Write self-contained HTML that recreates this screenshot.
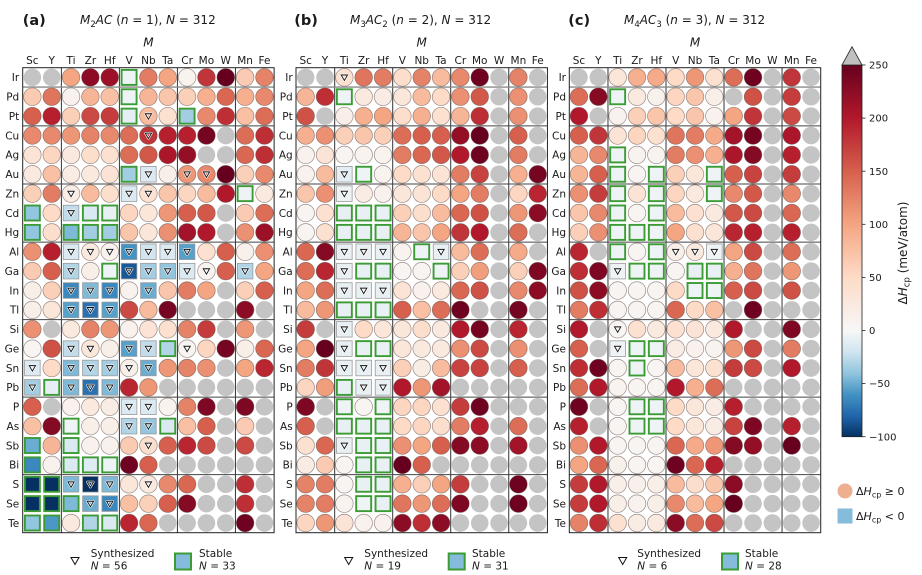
<!DOCTYPE html>
<html><head><meta charset="utf-8">
<style>
html,body{margin:0;padding:0;background:#fff;}
svg{display:block;font-family:"DejaVu Sans","Liberation Sans",sans-serif;}
</style></head>
<body>
<svg id="s" width="922" height="575" viewBox="0 0 922 575" xmlns="http://www.w3.org/2000/svg">
<defs>
<linearGradient id="cb" x1="0" y1="1" x2="0" y2="0">
<stop offset="0" stop-color="#053061"/>
<stop offset="0.0571" stop-color="#2166ac"/>
<stop offset="0.1143" stop-color="#4393c3"/>
<stop offset="0.1714" stop-color="#92c5de"/>
<stop offset="0.2286" stop-color="#d1e5f0"/>
<stop offset="0.2857" stop-color="#f7f7f7"/>
<stop offset="0.4286" stop-color="#fddbc7"/>
<stop offset="0.5714" stop-color="#f4a582"/>
<stop offset="0.7143" stop-color="#d6604d"/>
<stop offset="0.8571" stop-color="#b2182b"/>
<stop offset="1" stop-color="#67001f"/>
</linearGradient>
</defs>
<rect width="922" height="575" fill="#fff"/>
<g id="cells"></g>

<g fill="#1a1a1a">
<!-- titles -->
<text x="22.7" y="25" font-size="14.5" font-weight="bold">(a)</text>
<text x="80" y="24" font-size="12"><tspan font-style="italic">M</tspan><tspan font-size="8.5" dy="3">2</tspan><tspan dy="-3" font-style="italic">AC</tspan> (<tspan font-style="italic">n</tspan> = 1), <tspan font-style="italic">N</tspan> = 312</text>
<text x="294.3" y="25" font-size="14.5" font-weight="bold">(b)</text>
<text x="350" y="24" font-size="12"><tspan font-style="italic">M</tspan><tspan font-size="8.5" dy="3">3</tspan><tspan dy="-3" font-style="italic">AC</tspan><tspan font-size="8.5" dy="3">2</tspan><tspan dy="-3"> (</tspan><tspan font-style="italic">n</tspan> = 2), <tspan font-style="italic">N</tspan> = 312</text>
<text x="568.3" y="25" font-size="14.5" font-weight="bold">(c)</text>
<text x="624" y="24" font-size="12"><tspan font-style="italic">M</tspan><tspan font-size="8.5" dy="3">4</tspan><tspan dy="-3" font-style="italic">AC</tspan><tspan font-size="8.5" dy="3">3</tspan><tspan dy="-3"> (</tspan><tspan font-style="italic">n</tspan> = 3), <tspan font-style="italic">N</tspan> = 312</text>

<text x="148.4" y="46.5" font-size="12" font-style="italic" text-anchor="middle">M</text>
<text x="421.7" y="46.5" font-size="12" font-style="italic" text-anchor="middle">M</text>
<text x="695.0" y="46.5" font-size="12" font-style="italic" text-anchor="middle">M</text>

<!-- panel a labels -->
<g transform="translate(22.7,0)" font-size="10.5">
<g text-anchor="middle">
<text x="9.67" y="64">Sc</text><text x="29.01" y="64">Y</text><text x="48.35" y="64">Ti</text><text x="67.69" y="64">Zr</text><text x="87.03" y="64">Hf</text><text x="106.37" y="64">V</text><text x="125.71" y="64">Nb</text><text x="145.05" y="64">Ta</text><text x="164.39" y="64">Cr</text><text x="183.73" y="64">Mo</text><text x="203.07" y="64">W</text><text x="222.41" y="64">Mn</text><text x="241.75" y="64">Fe</text>
</g>
<g text-anchor="end">
<text x="-3.5" y="81.2">Ir</text><text x="-3.5" y="100.6">Pd</text><text x="-3.5" y="119.9">Pt</text><text x="-3.5" y="139.3">Cu</text><text x="-3.5" y="158.7">Ag</text><text x="-3.5" y="178.1">Au</text><text x="-3.5" y="197.4">Zn</text><text x="-3.5" y="216.8">Cd</text><text x="-3.5" y="236.2">Hg</text><text x="-3.5" y="255.6">Al</text><text x="-3.5" y="274.9">Ga</text><text x="-3.5" y="294.3">In</text><text x="-3.5" y="313.7">Tl</text><text x="-3.5" y="333.1">Si</text><text x="-3.5" y="352.4">Ge</text><text x="-3.5" y="371.8">Sn</text><text x="-3.5" y="391.2">Pb</text><text x="-3.5" y="410.6">P</text><text x="-3.5" y="429.9">As</text><text x="-3.5" y="449.3">Sb</text><text x="-3.5" y="468.7">Bi</text><text x="-3.5" y="488.1">S</text><text x="-3.5" y="507.4">Se</text><text x="-3.5" y="526.8">Te</text>
</g>
</g>

<!-- panel b labels -->
<g transform="translate(296,0)" font-size="10.5">
<g text-anchor="middle">
<text x="9.67" y="64">Sc</text><text x="29.01" y="64">Y</text><text x="48.35" y="64">Ti</text><text x="67.69" y="64">Zr</text><text x="87.03" y="64">Hf</text><text x="106.37" y="64">V</text><text x="125.71" y="64">Nb</text><text x="145.05" y="64">Ta</text><text x="164.39" y="64">Cr</text><text x="183.73" y="64">Mo</text><text x="203.07" y="64">W</text><text x="222.41" y="64">Mn</text><text x="241.75" y="64">Fe</text>
</g>
<g text-anchor="end">
<text x="-3.3" y="81.2">Ir</text><text x="-3.3" y="100.6">Pd</text><text x="-3.3" y="119.9">Pt</text><text x="-3.3" y="139.3">Cu</text><text x="-3.3" y="158.7">Ag</text><text x="-3.3" y="178.1">Au</text><text x="-3.3" y="197.4">Zn</text><text x="-3.3" y="216.8">Cd</text><text x="-3.3" y="236.2">Hg</text><text x="-3.3" y="255.6">Al</text><text x="-3.3" y="274.9">Ga</text><text x="-3.3" y="294.3">In</text><text x="-3.3" y="313.7">Tl</text><text x="-3.3" y="333.1">Si</text><text x="-3.3" y="352.4">Ge</text><text x="-3.3" y="371.8">Sn</text><text x="-3.3" y="391.2">Pb</text><text x="-3.3" y="410.6">P</text><text x="-3.3" y="429.9">As</text><text x="-3.3" y="449.3">Sb</text><text x="-3.3" y="468.7">Bi</text><text x="-3.3" y="488.1">S</text><text x="-3.3" y="507.4">Se</text><text x="-3.3" y="526.8">Te</text>
</g>
</g>

<!-- panel c labels -->
<g transform="translate(569.3,0)" font-size="10.5">
<g text-anchor="middle">
<text x="9.67" y="64">Sc</text><text x="29.01" y="64">Y</text><text x="48.35" y="64">Ti</text><text x="67.69" y="64">Zr</text><text x="87.03" y="64">Hf</text><text x="106.37" y="64">V</text><text x="125.71" y="64">Nb</text><text x="145.05" y="64">Ta</text><text x="164.39" y="64">Cr</text><text x="183.73" y="64">Mo</text><text x="203.07" y="64">W</text><text x="222.41" y="64">Mn</text><text x="241.75" y="64">Fe</text>
</g>
<g text-anchor="end">
<text x="-3.3" y="81.2">Ir</text><text x="-3.3" y="100.6">Pd</text><text x="-3.3" y="119.9">Pt</text><text x="-3.3" y="139.3">Cu</text><text x="-3.3" y="158.7">Ag</text><text x="-3.3" y="178.1">Au</text><text x="-3.3" y="197.4">Zn</text><text x="-3.3" y="216.8">Cd</text><text x="-3.3" y="236.2">Hg</text><text x="-3.3" y="255.6">Al</text><text x="-3.3" y="274.9">Ga</text><text x="-3.3" y="294.3">In</text><text x="-3.3" y="313.7">Tl</text><text x="-3.3" y="333.1">Si</text><text x="-3.3" y="352.4">Ge</text><text x="-3.3" y="371.8">Sn</text><text x="-3.3" y="391.2">Pb</text><text x="-3.3" y="410.6">P</text><text x="-3.3" y="429.9">As</text><text x="-3.3" y="449.3">Sb</text><text x="-3.3" y="468.7">Bi</text><text x="-3.3" y="488.1">S</text><text x="-3.3" y="507.4">Se</text><text x="-3.3" y="526.8">Te</text>
</g>
</g>

<!-- bottom legends -->
<g font-size="10.5">
<polygon points="71,557.5 79,557.5 75,564.5" fill="none" stroke="#111" stroke-width="1"/>
<text x="90.7" y="557">Synthesized</text>
<text x="90.7" y="569.5"><tspan font-style="italic">N</tspan> = 56</text>
<rect x="175" y="553.5" width="16" height="16" fill="#86bcdb" stroke="#3b9b35" stroke-width="2"/>
<text x="199" y="557">Stable</text>
<text x="199" y="569.5"><tspan font-style="italic">N</tspan> = 33</text>

<polygon points="344.7,557.5 352.7,557.5 348.7,564.5" fill="none" stroke="#111" stroke-width="1"/>
<text x="364.3" y="557">Synthesized</text>
<text x="364.3" y="569.5"><tspan font-style="italic">N</tspan> = 19</text>
<rect x="448.7" y="553.5" width="16" height="16" fill="#86bcdb" stroke="#3b9b35" stroke-width="2"/>
<text x="472" y="557">Stable</text>
<text x="472" y="569.5"><tspan font-style="italic">N</tspan> = 31</text>

<polygon points="618.7,557.5 626.7,557.5 622.7,564.5" fill="none" stroke="#111" stroke-width="1"/>
<text x="637.3" y="557">Synthesized</text>
<text x="637.3" y="569.5"><tspan font-style="italic">N</tspan> = 6</text>
<rect x="722" y="553.5" width="16" height="16" fill="#86bcdb" stroke="#3b9b35" stroke-width="2"/>
<text x="745" y="557">Stable</text>
<text x="745" y="569.5"><tspan font-style="italic">N</tspan> = 28</text>
</g>

<!-- colorbar -->
<rect x="842" y="65" width="20" height="371.7" fill="url(#cb)" stroke="#222" stroke-width="0.8"/>
<polygon points="842,65 862,65 852,46.7" fill="#c0c0c0" stroke="#222" stroke-width="0.8"/>
<g stroke="#222" stroke-width="0.8">
<line x1="862" y1="65" x2="865.5" y2="65"/>
<line x1="862" y1="118.1" x2="865.5" y2="118.1"/>
<line x1="862" y1="171.2" x2="865.5" y2="171.2"/>
<line x1="862" y1="224.3" x2="865.5" y2="224.3"/>
<line x1="862" y1="277.4" x2="865.5" y2="277.4"/>
<line x1="862" y1="330.5" x2="865.5" y2="330.5"/>
<line x1="862" y1="383.6" x2="865.5" y2="383.6"/>
<line x1="862" y1="436.7" x2="865.5" y2="436.7"/>
</g>
<g font-size="10">
<text x="869" y="68.6">250</text>
<text x="869" y="121.7">200</text>
<text x="869" y="174.8">150</text>
<text x="869" y="227.9">100</text>
<text x="869" y="281">50</text>
<text x="869" y="334.1">0</text>
<text x="869" y="387.2">−50</text>
<text x="869" y="440.3">−100</text>
</g>
<text transform="translate(907,253) rotate(-90)" text-anchor="middle" font-size="12">Δ<tspan font-style="italic">H</tspan><tspan font-size="8.5" dy="2.5">cp</tspan><tspan dy="-2.5"> (meV/atom)</tspan></text>

<!-- right legend -->
<circle cx="845" cy="491" r="7.5" fill="#eeae90"/>
<text x="856" y="495" font-size="11">Δ<tspan font-style="italic">H</tspan><tspan font-size="8" dy="2.5">cp</tspan><tspan dy="-2.5"> ≥ 0</tspan></text>
<rect x="837.5" y="508.5" width="15" height="15" fill="#86bcdb"/>
<text x="856" y="520" font-size="11">Δ<tspan font-style="italic">H</tspan><tspan font-size="8" dy="2.5">cp</tspan><tspan dy="-2.5"> &lt; 0</tspan></text>
</g>
</svg>
<script>
const A=[
"g g 100 225 215 -5s 130 100 8 180 250 65 125",
"65 135 10 85 75 -5s 85 70 60 90 145 90 120",
"150 195 60 165 175 -10s 80t 40 -35s 120 185 75 140",
"120 120 110 125 120 140 180t 195 195 240 g 140 185",
"35 55 25 45 40 140 155 205 220 g g 145 185",
"25 75 20 25 35 -35s -15t 15 110t 120t 250 60 120",
"60 130 20t 80 45 -15t 40t 70 55 80 200 -5s 25",
"-40s 50 -25t -15s -8s 55 30 110 150 155 g 65 140",
"-40s 45 -45s -35s -35s 70 30 115 210 200 g 115 215",
"115 195 -15t 25t 10t -60t -20t -15t -55t 40 150 12 115",
"65 150 -30t 15 -5s -85t -35t -40t -15t 8t 150 -30t 100",
"15 60 -65t -45t -65t 10 -50t 70 130 100 g 60 150",
"15 30 -55t -75t -55t 165 80 240 g g g 225 g",
"115 g 25 125 110 10 35 40 125 175 g 110 g",
"5 160 -25t 30t 15 -55t -25t -30s 5t 55 240 15 145",
"-15t 50 -45t -30t -35t 15t -50t 110 125 115 g 100 190",
"-35t -10s -45t -75t -45t 190 110 g g g g g g",
"150 g 10 25 20 -15t -15t 8 125 235 g 235 g",
"75 230 -3s 15 15 -30t -40t -15s 75 150 g 65 g",
"-50s 85 -15s 10 10 65 45t 150 190 165 g 165 g",
"-65s 10 -15s -12s -5s 245 150 g g g g g g",
"-100s -100s -45t -100t -45t 30 25t 120 145 g g 185 g",
"-100s -100s -45s -50t -65t 75 60 150 230 g g 185 g",
"-40s -58s 25 -30s -15s 190 145 g g g g 245 g"
];
const B=[
"g g 40t 135 130 45 125 80 120 245 g 125 g",
"85 185 -5s 25 20 30 80 50 115 155 g 115 g",
"160 g 15 90 100 45 90 40 85 185 g 115 g",
"90 115 60 70 60 140 150 150 220 250 g 150 g",
"10 35 5 8 8 130 145 155 200 245 g 130 g",
"10 80 -10t -5s 8 50 40 35 130 170 g 90 240",
"70 115 -5t 20 10 30 35 50 100 130 g 55 190",
"5 40 -8s -8s -8s 60 45 80 145 160 g 110 225",
"5 40 -8s -8s -8s 85 70 100 180 200 g 140 g",
"145 230 -8t -8t -8t 8 -5s -8t 80 140 g 95 g",
"140 190 -8t -8s -8s 5 5 -5s 60 105 g 60 235",
"100 140 -8t -8t -8t 35 10 25 145 160 g 120 225",
"80 110 -8s -8s -8s 150 75 140 245 g g 240 g",
"175 g -8t 50 30 30 45 25 200 240 g 190 g",
"100 250 -8t -8s -8s 30 25 25 115 165 g 115 g",
"130 180 -8t -8t -8t 60 20 80 170 170 g 150 g",
"55 105 -8s -8t -8t 200 110 210 g g g g g",
"235 g -5s 5 -5s 55 55 40 175 245 g g g",
"150 g -8s -8s -8s 50 55 45 130 195 g 140 g",
"40 145 -8t -8s -8s 115 100 150 230 225 g 210 g",
"20 65 5 -8s -8s 250 150 g g g g g g",
"125 130 5 -8s -8s 90 60 100 175 g g 245 g",
"125 130 8 -5s -8s 135 110 140 235 g g 245 g",
"55 110 35 10 10 225 185 225 g g g g g"
];
const C=[
"g g 30 90 95 50 110 40 140 245 g 180 g",
"140 230 -5s 25 12 55 70 15 g 160 g 175 g",
"200 g 10 60 70 50 70 10 100 180 g 165 g",
"150 180 35 55 40 135 130 95 210 240 g 205 g",
"85 120 -5s 8 8 130 115 90 205 230 g 195 g",
"85 150 -5s 5 -5s 60 30 -5s 150 170 g 175 g",
"115 175 -5s 35 -5s 55 25 -5s 120 155 g 120 g",
"70 120 -5s 5 -5s 80 40 25 155 165 g 145 g",
"60 115 -5s -5s -5s 100 40 30 190 195 g 195 g",
"190 g -5s 5 -5s 15t 25t -5t 100 165 g 140 g",
"185 235 -5t -5s -5s 5 -8s -8s 90 135 g 110 g",
"160 225 5 5 5 50 -5s -5s 150 165 g 160 g",
"130 185 5 5 5 145 50 75 g 245 g g g",
"200 g 5t 40 25 40 35 25 200 g g 235 g",
"150 g -5t -5s -5s 20 10 8 110 165 g 130 g",
"185 245 5 -5s 5 80 30 40 175 165 g 200 g",
"140 200 8 5 5 200 90 140 g g g g g",
"245 g 5 -5s -5s 50 30 20 195 g g g g",
"195 g 5 -5s -5s 50 30 20 170 235 g 195 g",
"115 200 5 5 5 145 95 110 230 220 g 250 g",
"100 145 12 5 5 245 145 195 g g g g g",
"175 200 15 12 15 80 45 70 225 g g g g",
"175 200 15 10 15 120 80 100 250 g g g g",
"125 185 40 20 25 225 140 165 g g g g g"
];
const stops=[[0,[5,48,97]],[0.1,[33,102,172]],[0.2,[67,147,195]],[0.3,[146,197,222]],[0.4,[209,229,240]],[0.5,[247,247,247]],[0.6,[253,219,199]],[0.7,[244,165,130]],[0.8,[214,96,77]],[0.9,[178,24,43]],[1,[103,0,31]]];
function col(v){
  const t=v<0?0.5+0.5*Math.max(v,-100)/100:0.5+0.5*Math.min(v,250)/250;
  for(let i=0;i<stops.length-1;i++){
    if(t<=stops[i+1][0]){const a=stops[i],b=stops[i+1];const f=(t-a[0])/(b[0]-a[0]);
      return 'rgb('+a[1].map((c,k)=>Math.round(c+(b[1][k]-c)*f)).join(',')+')';}
  }
  return 'rgb(103,0,31)';
}
const NS='http://www.w3.org/2000/svg';
const g=document.getElementById('cells');
function el(tag,attrs){const e=document.createElementNS(NS,tag);for(const k in attrs)e.setAttribute(k,attrs[k]);g.appendChild(e);return e;}
const X0=[22.7,296,569.3],PX=19.34,PY=19.375,Y0=67.7;
[A,B,C].forEach((D,p)=>{
  const x0=X0[p];
  D.forEach((row,j)=>{
    row.trim().split(/\s+/).forEach((tok,i)=>{
      const cx=x0+(i+0.5)*PX, cy=Y0+(j+0.5)*PY;
      if(tok==='g'){el('circle',{cx:cx,cy:cy,r:8.8,fill:'#c4c4c4'});return;}
      const v=parseFloat(tok), s=tok.indexOf('s')>=0, t=tok.indexOf('t')>=0;
      if(v<0){
        if(s) el('rect',{x:cx-7.5,y:cy-7.5,width:15,height:15,fill:col(v),stroke:'#3b9b35','stroke-width':1.9});
        else el('rect',{x:cx-7.8,y:cy-7.8,width:15.6,height:15.6,fill:col(v),stroke:'#9a9a9a','stroke-width':0.8});
      } else {
        el('circle',{cx:cx,cy:cy,r:8.8,fill:col(v),stroke:'rgba(90,70,65,0.6)','stroke-width':0.7});
      }
      if(t){
        const pts=(cx-3.2)+','+(cy-2.4)+' '+(cx+3.2)+','+(cy-2.4)+' '+cx+','+(cy+3.1);
        el('polygon',{points:pts,fill:'none',stroke:'#fff','stroke-width':2.2,'stroke-linejoin':'round'});
        el('polygon',{points:pts,fill:'none',stroke:'#111','stroke-width':0.9});
      }
    });
  });
  const x1=x0+13*PX, y1=Y0+24*PY;
  [2,5,8,11].forEach(c=>el('line',{x1:x0+c*PX,y1:Y0,x2:x0+c*PX,y2:y1,stroke:'#333','stroke-width':1}));
  [1,3,6,9,13,17,21].forEach(r=>el('line',{x1:x0,y1:Y0+r*PY,x2:x1,y2:Y0+r*PY,stroke:r===1?'#8a8a8a':'#444','stroke-width':r===1?1.3:1}));
  el('rect',{x:x0,y:Y0,width:13*PX,height:24*PY,fill:'none',stroke:'#222','stroke-width':1});
});
</script>
</body></html>
